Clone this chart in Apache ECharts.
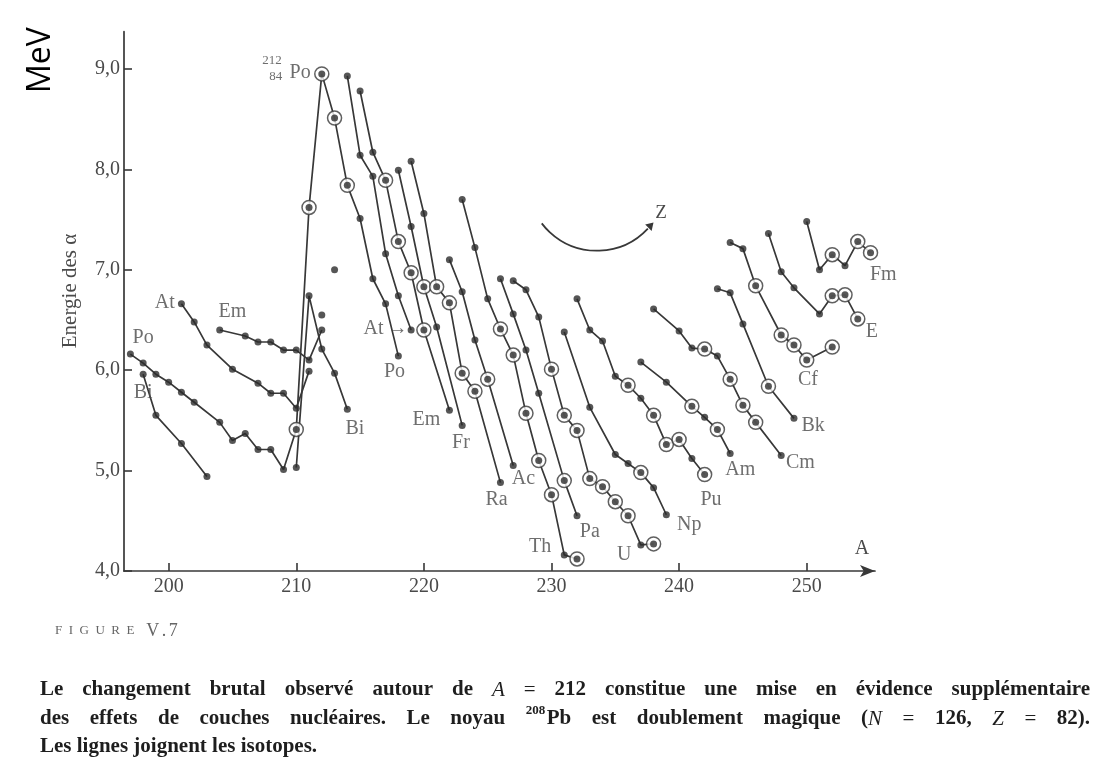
<!DOCTYPE html>
<html>
<head>
<meta charset="utf-8">
<title>Energie des alpha</title>
<script src="https://cdn.jsdelivr.net/npm/echarts@6/dist/echarts.min.js"></script>
<style>
    html, body { margin: 0; padding: 0; background: #fff; }
    #chart { width: 1101px; height: 766px; }
</style>
</head>
<body>
<div id="chart"></div>
<script>
    // chaines d'isotopes : [A, energie alpha (MeV), 1 = point entoure]
    var poChain = [[197, 6.16], [198, 6.07], [199, 5.96], [200, 5.88], [201, 5.78], [202, 5.68], [204, 5.48], [205, 5.30], [206, 5.37], [207, 5.21], [208, 5.21], [209, 5.01], [210, 5.41, 1], [211, 7.62, 1], [212, 8.95, 1], [213, 8.51, 1], [214, 7.84, 1], [215, 7.51], [216, 6.91], [217, 6.66], [218, 6.14]];
    var biLeft = [[198, 5.96], [199, 5.55], [201, 5.27], [203, 4.94]];
    var biRight = [[210, 5.03], [211, 6.74], [212, 6.21], [213, 5.97], [214, 5.61]];
    var atLeft = [[201, 6.66], [202, 6.48], [203, 6.25], [205, 6.01], [207, 5.87], [208, 5.77], [209, 5.77], [210, 5.62], [211, 5.99]];
    var atRight = [[214, 8.93], [215, 8.14], [216, 7.93], [217, 7.16], [218, 6.74], [219, 6.40]];
    var emLeft = [[204, 6.40], [206, 6.34], [207, 6.28], [208, 6.28], [209, 6.20], [210, 6.20], [211, 6.10], [212, 6.40]];
    var emRight = [[215, 8.78], [216, 8.17], [217, 7.89, 1], [218, 7.28, 1], [219, 6.97, 1], [220, 6.40, 1], [222, 5.60]];
    var frSingle = [[212, 6.55], [213, 7.00]];
    var frChain = [[218, 7.99], [219, 7.43], [220, 6.83, 1], [221, 6.43], [223, 5.45]];
    var raChain = [[219, 8.08], [220, 7.56], [221, 6.83, 1], [222, 6.67, 1], [223, 5.97, 1], [224, 5.79, 1], [226, 4.88]];
    var acChain = [[222, 7.10], [223, 6.78], [224, 6.30], [225, 5.91, 1], [227, 5.05]];
    var thChain = [[223, 7.70], [224, 7.22], [225, 6.71], [226, 6.41, 1], [227, 6.15, 1], [228, 5.57, 1], [229, 5.10, 1], [230, 4.76, 1], [231, 4.16], [232, 4.12, 1]];
    var paChain = [[226, 6.91], [227, 6.56], [228, 6.20], [229, 5.77], [231, 4.90, 1], [232, 4.55]];
    var uChain = [[227, 6.89], [228, 6.80], [229, 6.53], [230, 6.01, 1], [231, 5.55, 1], [232, 5.40, 1], [233, 4.92, 1], [234, 4.84, 1], [235, 4.69, 1], [236, 4.55, 1], [237, 4.26], [238, 4.27, 1]];
    var npChain = [[231, 6.38], [233, 5.63], [235, 5.16], [236, 5.07], [237, 4.98, 1], [238, 4.83], [239, 4.56]];
    var puChain = [[232, 6.71], [233, 6.40], [234, 6.29], [235, 5.94], [236, 5.85, 1], [237, 5.72], [238, 5.55, 1], [239, 5.26, 1], [240, 5.31, 1], [241, 5.12], [242, 4.96, 1]];
    var amChain = [[237, 6.08], [239, 5.88], [241, 5.64, 1], [242, 5.53], [243, 5.41, 1], [244, 5.17]];
    var cmChain = [[238, 6.61], [240, 6.39], [241, 6.22], [242, 6.21, 1], [243, 6.14], [244, 5.91, 1], [245, 5.65, 1], [246, 5.48, 1], [248, 5.15]];
    var bkChain = [[243, 6.81], [244, 6.77], [245, 6.46], [247, 5.84, 1], [249, 5.52]];
    var cfChain = [[244, 7.27], [245, 7.21], [246, 6.84, 1], [248, 6.35, 1], [249, 6.25, 1], [250, 6.10, 1], [252, 6.23, 1]];
    var esChain = [[247, 7.36], [248, 6.98], [249, 6.82], [251, 6.56], [252, 6.74, 1], [253, 6.75, 1], [254, 6.51, 1]];
    var fmChain = [[250, 7.48], [251, 7.00], [252, 7.15, 1], [253, 7.04], [254, 7.28, 1], [255, 7.17, 1]];

    // noms des elements : [A, E, texte, style]
    var elemLabels = [
        [198.0, 6.32, 'Po'], [198.0, 5.77, 'Bi'], [199.7, 6.67, 'At'], [205.0, 6.58, 'Em'],
        [214.6, 5.42, 'Bi'], [217.7, 5.98, 'Po'], [217.0, 6.41, 'At\u2009\u2192'], [220.2, 5.51, 'Em'],
        [222.9, 5.28, 'Fr'], [225.7, 4.71, 'Ra'], [227.8, 4.92, 'Ac'], [229.1, 4.24, 'Th'],
        [233.0, 4.39, 'Pa'], [235.7, 4.16, 'U'], [240.8, 4.46, 'Np'], [242.5, 4.71, 'Pu'],
        [244.8, 5.01, 'Am'], [249.5, 5.08, 'Cm'], [250.5, 5.45, 'Bk'], [250.1, 5.90, 'Cf'],
        [255.1, 6.38, 'E'], [256.0, 6.95, 'Fm'],
        [208.1, 9.08, '212', 's'], [208.4, 8.92, '84', 's'], [210.3, 8.96, 'Po']
    ];

    var xTicks = [200, 210, 220, 230, 240, 250];
    var yTicks = [4, 5, 6, 7, 8, 9];

    var chains = [poChain, biLeft, biRight, atLeft, atRight, emLeft, emRight, frChain, raChain, acChain,
        thChain, paChain, uChain, npChain, puChain, amChain, cmChain, bkChain, cfChain, esChain, fmChain];

    var serif = '"Liberation Serif", "DejaVu Serif", serif';
    var ink = '#383838';
    var txt = '#4a4a4a';

    var series = [];
    var allPts = [];
    var ringPts = [];
    chains.forEach(function(c) {
        series.push({
            type: 'line',
            data: c.map(function(p) { return [p[0], p[1]]; }),
            symbol: 'none',
            lineStyle: { color: ink, width: 1.7 },
            z: 2,
            silent: true
        });
        c.forEach(function(p) {
            allPts.push([p[0], p[1]]);
            if (p[2]) ringPts.push([p[0], p[1]]);
        });
    });
    frSingle.forEach(function(p) { allPts.push([p[0], p[1]]); });

    series.push({
        type: 'scatter',
        data: ringPts,
        symbol: 'circle',
        symbolSize: 14,
        itemStyle: { color: '#fff', borderColor: ink, borderWidth: 1.5 },
        z: 3,
        silent: true
    });
    series.push({
        type: 'scatter',
        data: allPts,
        symbol: 'circle',
        symbolSize: 7,
        itemStyle: { color: '#2c2c2c' },
        z: 4,
        silent: true
    });
    series.push({
        type: 'scatter',
        data: elemLabels,
        symbolSize: 1,
        clip: false,
        itemStyle: { color: 'rgba(0,0,0,0)' },
        label: {
            show: true,
            position: 'inside',
            formatter: function(p) {
                return p.data[3] === 's' ? '{s|' + p.data[2] + '}' : '{n|' + p.data[2] + '}';
            },
            rich: {
                n: { fontFamily: serif, fontSize: 20, color: txt },
                s: { fontFamily: serif, fontSize: 13, color: txt }
            }
        },
        z: 5,
        silent: true
    });

    // legende du bas : justification des lignes
    var capSize = 21;
    var fonts = {
        b: 'bold ' + capSize + 'px ' + serif,
        i: 'italic ' + capSize + 'px ' + serif,
        r: capSize + 'px ' + serif,
        s: 'bold 13px ' + serif
    };
    var capLines = [
        { y: 690, justify: true, words: [[['Le', 'b']], [['changement', 'b']], [['brutal', 'b']], [['observé', 'b']], [['autour', 'b']], [['de', 'b']], [['A', 'i']], [['=', 'r']], [['212', 'b']], [['constitue', 'b']], [['une', 'b']], [['mise', 'b']], [['en', 'b']], [['évidence', 'b']], [['supplémentaire', 'b']]] },
        { y: 719, justify: true, words: [[['des', 'b']], [['effets', 'b']], [['de', 'b']], [['couches', 'b']], [['nucléaires.', 'b']], [['Le', 'b']], [['noyau', 'b']], [['208', 's'], ['Pb', 'b']], [['est', 'b']], [['doublement', 'b']], [['magique', 'b']], [['(', 'b'], ['N', 'i']], [['=', 'r']], [['126,', 'b']], [['Z', 'i']], [['=', 'r']], [['82).', 'b']]] },
        { y: 747, justify: false, words: [[['Les', 'b']], [['lignes', 'b']], [['joignent', 'b']], [['les', 'b']], [['isotopes.', 'b']]] }
    ];
    var capLeft = 40, capRight = 1090;
    var ctx = document.createElement('canvas').getContext('2d');

    function segW(s) {
        ctx.font = fonts[s[1]];
        return ctx.measureText(s[0]).width + (s[1] === 's' ? 1.5 : 0);
    }

    var graphics = [];
    capLines.forEach(function(line) {
        var widths = line.words.map(function(w) {
            return w.reduce(function(a, s) { return a + segW(s); }, 0);
        });
        var total = widths.reduce(function(a, b) { return a + b; }, 0);
        ctx.font = fonts.b;
        var gap = line.justify ? (capRight - capLeft - total) / (line.words.length - 1) : ctx.measureText(' ').width;
        var x = capLeft;
        line.words.forEach(function(w, k) {
            var sx = x;
            w.forEach(function(s) {
                graphics.push({
                    type: 'text',
                    style: {
                        text: s[0], x: sx, y: line.y + (s[1] === 's' ? -8 : 0),
                        font: fonts[s[1]], fill: '#1e1e1e', align: 'left', verticalAlign: 'middle'
                    }
                });
                sx += segW(s);
            });
            x += widths[k] + gap;
        });
    });

    // "FIGURE V.7" en petites capitales espacees
    var figParts = [['FIGURE', 13, 6.5], [' ', 13, 2], ['V.7', 18, 2.5]];
    var fx = 55;
    figParts.forEach(function(part) {
        var f = part[1] + 'px ' + serif;
        ctx.font = f;
        part[0].split('').forEach(function(ch) {
            graphics.push({ type: 'text', style: { text: ch, x: fx, y: 631, font: f, fill: '#666', align: 'left', verticalAlign: 'middle' } });
            fx += ctx.measureText(ch).width + part[2];
        });
    });

    graphics.push(
        { type: 'text', style: { text: 'MeV', x: 41, y: 60, font: '32px "Open Sans", "Noto Sans", sans-serif', fill: '#000', align: 'center', verticalAlign: 'middle' }, rotation: Math.PI / 2, originX: 41, originY: 60 },
        { type: 'text', style: { text: 'Energie des \u03b1', x: 70, y: 291, font: '21px ' + serif, fill: txt, align: 'center', verticalAlign: 'middle' }, rotation: Math.PI / 2, originX: 70, originY: 291 },
        { type: 'text', style: { text: 'A', x: 862, y: 549, font: '20px ' + serif, fill: txt, align: 'center', verticalAlign: 'middle' } },
        { type: 'text', style: { text: 'Z', x: 661, y: 213, font: '19px ' + serif, fill: txt, align: 'center', verticalAlign: 'middle' } },
        { type: 'arc', shape: { cx: 597, cy: 181.2, r: 69.5, startAngle: 0.75, endAngle: 2.49, clockwise: true }, style: { stroke: ink, lineWidth: 1.8, fill: null } },
        { type: 'polygon', shape: { points: [[653.5, 222.5], [645.2, 224.6], [651.6, 231.0]] }, style: { fill: ink } }
    );

    var myChart = echarts.init(document.getElementById('chart'));
    var option = {
        animation: false,
        backgroundColor: '#fff',
        grid: { left: 124, top: 31.7, width: 751, height: 539.3 },
        xAxis: {
            type: 'value',
            min: 196.5,
            max: 255.35,
            axisLine: { show: true, onZero: false, lineStyle: { color: ink, width: 1.7 }, symbol: ['none', 'arrow'], symbolSize: [9, 15] },
            axisTick: { show: true, inside: true, length: 8, lineStyle: { color: ink, width: 1.6 }, customValues: xTicks },
            axisLabel: { customValues: xTicks, fontFamily: serif, fontSize: 20, color: txt, margin: 6 },
            splitLine: { show: false }
        },
        yAxis: {
            type: 'value',
            min: 4,
            max: 9.37,
            axisLine: { show: true, onZero: false, lineStyle: { color: ink, width: 1.7 } },
            axisTick: { show: true, inside: true, length: 8, lineStyle: { color: ink, width: 1.6 }, customValues: yTicks },
            axisLabel: {
                customValues: yTicks, fontFamily: serif, fontSize: 20, color: txt, margin: 4,
                formatter: function(v) { return v.toFixed(1).replace('.', ','); }
            },
            splitLine: { show: false }
        },
        graphic: graphics,
        series: series
    };
    myChart.setOption(option);
</script>
</body>
</html>
